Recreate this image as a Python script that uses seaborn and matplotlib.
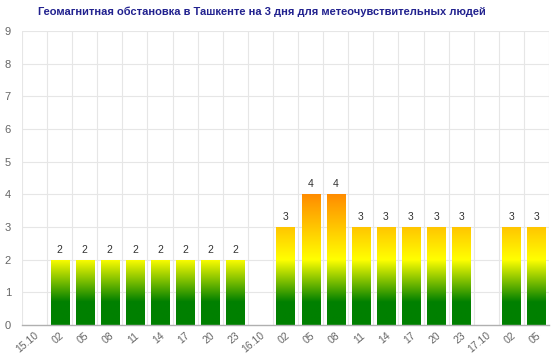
import numpy as np
import pandas as pd
import matplotlib
matplotlib.use("Agg")
import matplotlib.pyplot as plt
import seaborn as sns
from matplotlib.colors import LinearSegmentedColormap

labels = ["15.10", "02", "05", "08", "11", "14", "17", "20", "23",
          "16.10", "02", "05", "08", "11", "14", "17", "20", "23",
          "17.10", "02", "05"]
values = [np.nan, 2, 2, 2, 2, 2, 2, 2, 2,
          np.nan, 3, 4, 4, 3, 3, 3, 3, 3,
          np.nan, 3, 3]
title = "Геомагнитная обстановка в Ташкенте на 3 дня для метеочувствительных людей"

sns.set_theme(style="white")
plt.rcParams['font.family'] = ['Liberation Sans', 'DejaVu Sans']

slots = [f"s{i}" for i in range(len(labels))]
df = pd.DataFrame({"slot": slots, "value": [0 if np.isnan(v) else v for v in values]})

fig = plt.figure(figsize=(5.6, 3.58), dpi=100)
ax = fig.add_axes([22/560, 1-325/358, (549-22)/560, (325-31)/358])

sns.barplot(data=df, x="slot", y="value", order=slots, color="green",
            width=0.72, ax=ax, saturation=1, errorbar=None)

cmap = LinearSegmentedColormap.from_list(
    "geo", [(0.0, "#008000"), (0.7/4, "#008000"), (2.0/4, "#ffff00"), (1.0, "#ff8c00")])
grad = np.linspace(0, 4, 256).reshape(-1, 1)

for patch, v in zip(ax.patches, values):
    if np.isnan(v):
        patch.set_visible(False)
        continue
    patch.set_facecolor("none")
    patch.set_edgecolor("none")
    x0 = patch.get_x(); w = patch.get_width()
    im = ax.imshow(grad, cmap=cmap, vmin=0, vmax=4, origin="lower",
                   extent=(x0, x0 + w, 0, 4), aspect="auto", zorder=2)
    im.set_clip_path(patch)
    ax.text(x0 + w/2, v + 0.15, f"{int(v)}", ha="center", va="bottom",
            fontsize=7.5, color="#333333", zorder=3)

ax.set_ylim(0, 9)
ax.set_xlim(-0.5, len(labels)-0.5)

for y in range(1, 10):
    ax.axhline(y, color="#e6e6e6", lw=0.8, zorder=0)
for b in np.arange(-0.5, len(labels)-0.4, 1):
    ax.axvline(b, color="#e6e6e6", lw=0.8, zorder=0)

ax.set_yticks(range(0, 10))
ax.set_yticklabels([str(i) for i in range(10)], fontsize=8, color="#666666")
ax.tick_params(axis="y", length=0, pad=8)
ax.set_xticks(range(len(labels)))
ax.set_xticklabels(labels, rotation=40, ha="right", rotation_mode="anchor",
                   fontsize=7.5, color="#666666")
ax.tick_params(axis="x", length=0, pad=4)
ax.set_xlabel(""); ax.set_ylabel("")
for s in ["top", "right", "left"]:
    ax.spines[s].set_visible(False)
ax.spines["bottom"].set_color("#b0b0b0")
ax.spines["bottom"].set_linewidth(1)

fig.text(262/560, 1-12/358, title, ha="center", va="center",
         fontsize=8, fontweight="bold", color="#22228f")

fig.savefig("out.png", dpi=100)
